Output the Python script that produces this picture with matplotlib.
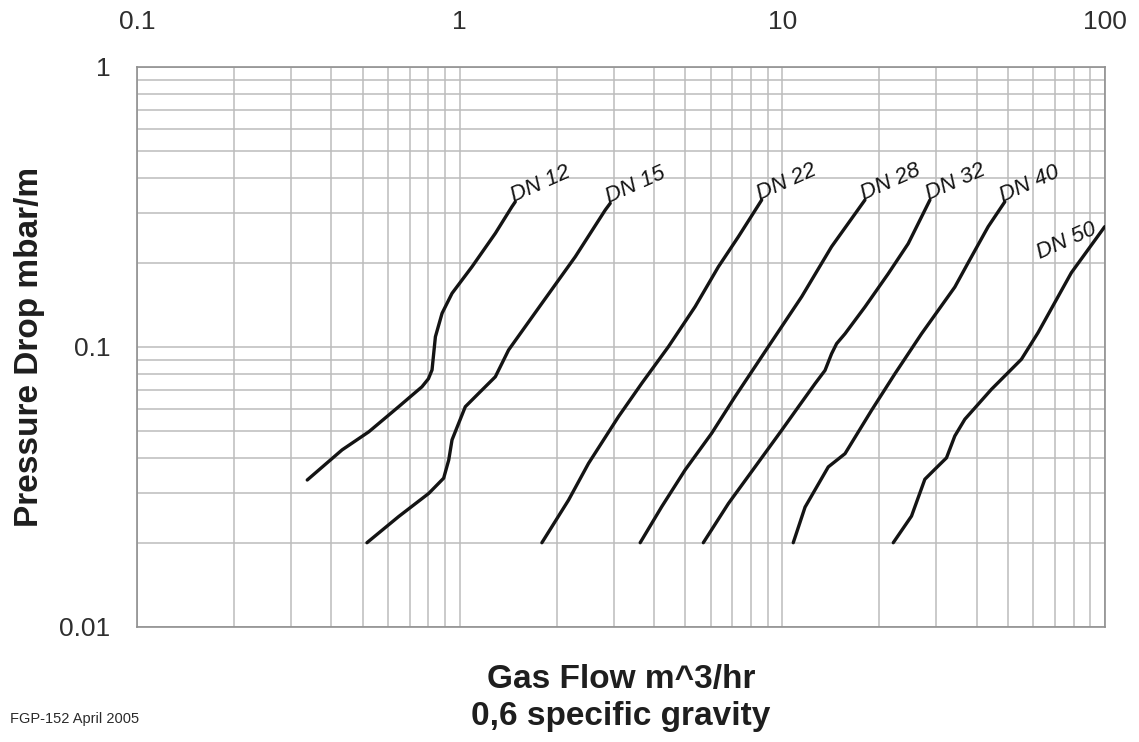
import matplotlib
matplotlib.use("Agg")
import matplotlib.pyplot as plt
from matplotlib import font_manager
from matplotlib.ticker import FixedLocator, LogLocator, NullFormatter

# ---------------- data ----------------
x_ticks = [0.1, 1, 10, 100]
x_tick_labels = ["0.1", "1", "10", "100"]
y_ticks = [0.01, 0.1, 1]
y_tick_labels = ["0.01", "0.1", "1"]

dn12_x = [0.337, 0.432, 0.523, 0.647, 0.764, 0.800, 0.821, 0.831, 0.841, 0.882, 0.947, 1.092, 1.290, 1.452, 1.487]
dn12_y = [0.0335, 0.0429, 0.0498, 0.0612, 0.0721, 0.0770, 0.0828, 0.0950, 0.1088, 0.1320, 0.1555, 0.1935, 0.2547, 0.3170, 0.330]

dn15_x = [0.516, 0.647, 0.802, 0.892, 0.925, 0.947, 1.041, 1.145, 1.290, 1.418, 1.798, 2.282, 2.826, 2.928]
dn15_y = [0.020, 0.0248, 0.0300, 0.0340, 0.0395, 0.0466, 0.0612, 0.0683, 0.0783, 0.0976, 0.1432, 0.2101, 0.3085, 0.326]

dn22_x = [1.798, 2.175, 2.508, 3.106, 3.668, 4.437, 5.366, 6.337, 7.308, 8.63]
dn22_y = [0.020, 0.0284, 0.0384, 0.0564, 0.0742, 0.1003, 0.1393, 0.1935, 0.2477, 0.335]

dn28_x = [3.626, 4.229, 4.998, 6.04, 7.138, 9.05, 11.48, 14.21, 18.03]
dn28_y = [0.020, 0.0269, 0.0364, 0.0492, 0.0665, 0.1003, 0.1512, 0.2282, 0.335]

dn32_x = [5.69, 6.805, 8.23, 9.95, 11.21, 12.63, 13.56, 14.21, 14.73, 15.64, 18.03, 21.29, 24.55, 28.67]
dn32_y = [0.020, 0.0276, 0.0373, 0.0504, 0.0611, 0.0740, 0.0825, 0.0946, 0.1028, 0.1115, 0.139, 0.1827, 0.2339, 0.335]

dn40_x = [10.81, 11.76, 13.88, 15.64, 18.90, 22.34, 27.0, 34.24, 37.66, 43.44, 48.92]
dn40_y = [0.020, 0.0268, 0.0373, 0.0416, 0.0594, 0.0803, 0.1115, 0.1637, 0.200, 0.269, 0.330]

dn50_x = [22.07, 25.14, 27.65, 29.71, 32.27, 34.24, 36.78, 44.46, 55.07, 62.02, 78.65, 99.8]
dn50_y = [0.020, 0.0249, 0.0337, 0.0366, 0.0402, 0.0481, 0.0552, 0.0706, 0.0904, 0.1125, 0.1842, 0.269]

curve_names = ["DN 12", "DN 15", "DN 22", "DN 28", "DN 32", "DN 40", "DN 50"]
curves_x = [dn12_x, dn15_x, dn22_x, dn28_x, dn32_x, dn40_x, dn50_x]
curves_y = [dn12_y, dn15_y, dn22_y, dn28_y, dn32_y, dn40_y, dn50_y]

# ---------------- fonts ----------------
avail = {f.name for f in font_manager.fontManager.ttflist}
base_font = "Liberation Sans" if "Liberation Sans" in avail else "DejaVu Sans"
label_font = "Liberation Sans Narrow" if "Liberation Sans Narrow" in avail else base_font
plt.rcParams["font.family"] = [base_font, "DejaVu Sans"]

W, H = 1139, 742
fig = plt.figure(figsize=(W / 100, H / 100), dpi=100)
fig.patch.set_facecolor("white")

ax_l, ax_r, ax_t, ax_b = 137, 1105, 67, 627
ax = fig.add_axes([ax_l / W, (H - ax_b) / H, (ax_r - ax_l) / W, (ax_b - ax_t) / H])
ax.set_xscale("log")
ax.set_yscale("log")
ax.set_xlim(0.1, 100)
ax.set_ylim(0.01, 1)

# grid
ax.xaxis.set_major_locator(FixedLocator(x_ticks))
ax.yaxis.set_major_locator(FixedLocator(y_ticks))
ax.xaxis.set_minor_locator(LogLocator(base=10, subs=range(2, 10)))
ax.yaxis.set_minor_locator(LogLocator(base=10, subs=range(2, 10)))
ax.xaxis.set_minor_formatter(NullFormatter())
ax.yaxis.set_minor_formatter(NullFormatter())
ax.set_xticklabels(x_tick_labels)
ax.set_yticklabels(y_tick_labels)
ax.grid(which="both", color="#bcbcbc", linewidth=1.1)
ax.set_axisbelow(True)

ax.xaxis.tick_top()
ax.tick_params(axis="x", which="both", length=0, pad=24, labelsize=19, labelcolor="#2e2e2e")
ax.tick_params(axis="y", which="both", length=0, pad=19, labelsize=19, labelcolor="#2e2e2e")
for s in ax.spines.values():
    s.set_color("#909090")
    s.set_linewidth(1.2)

# curves
for name, xs, ys in zip(curve_names, curves_x, curves_y):
    ax.plot(xs, ys, color="#141414", linewidth=2.4,
            solid_capstyle="round", solid_joinstyle="round", zorder=3)
    if name == "DN 50":
        ax.annotate(name, xy=(xs[-1], ys[-1]), xytext=(-5, -5), textcoords="offset points",
                    rotation=24, rotation_mode="anchor", ha="right", va="baseline",
                    fontsize=16, family=[label_font, "DejaVu Sans"], style="italic",
                    color="#141414", zorder=4)
    else:
        ax.annotate(name, xy=(xs[-1], ys[-1]), xytext=(-1, 0), textcoords="offset points",
                    rotation=24, rotation_mode="anchor", ha="left", va="baseline",
                    fontsize=16, family=[label_font, "DejaVu Sans"], style="italic",
                    color="#141414", zorder=4)

# axis titles and note
fig.text(621 / W, (H - 688) / H, "Gas Flow m^3/hr", ha="center", va="baseline",
         fontsize=24, fontweight="bold", color="#1e1e1e")
fig.text(621 / W, (H - 725) / H, "0,6 specific gravity", ha="center", va="baseline",
         fontsize=24, fontweight="bold", color="#1e1e1e")
fig.text(30 / W, (H - 347) / H, "Pressure Drop mbar/m", rotation=90, ha="center", va="center",
         fontsize=24, fontweight="bold", color="#1e1e1e")
fig.text(10 / W, (H - 723) / H, "FGP-152 April 2005", ha="left", va="baseline",
         fontsize=10.5, color="#2a2a2a")

fig.savefig("out.png", dpi=100, facecolor="white")
